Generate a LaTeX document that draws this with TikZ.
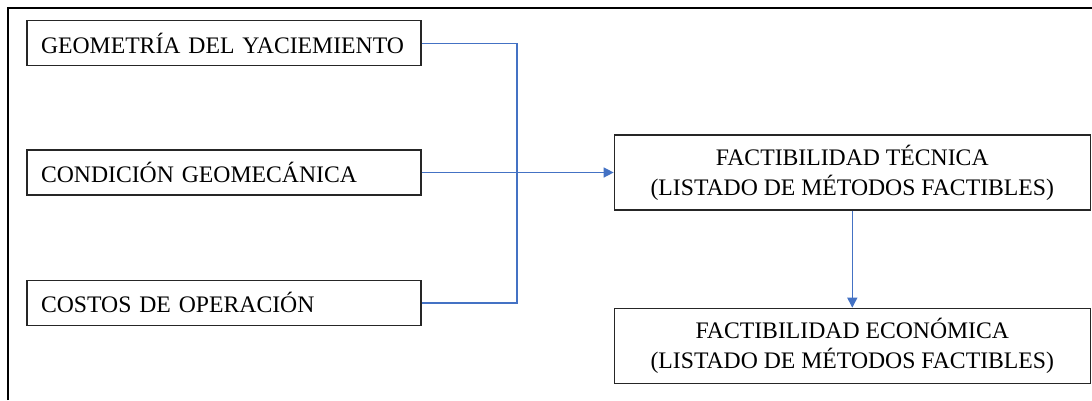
\documentclass[tikz,border=0pt]{standalone}
\usepackage{fontspec}
\setmainfont{Liberation Serif}
\usepackage{tikz}
\usetikzlibrary{positioning,arrows.meta}

\definecolor{linkblue}{RGB}{68,114,196}

\begin{document}
\begin{tikzpicture}[
		x=1pt, y=-1pt,
		>={Triangle[length=10pt,width=10pt]},
		node distance=84pt,
		every node/.style={font=\fontsize{23.7}{30}\selectfont},
		inbox/.style={draw=black!85, line width=1.3pt, text width=366pt, inner xsep=14pt,
			minimum height=45pt, align=left},
		outbox/.style={draw=black!85, line width=1.3pt, minimum width=476pt,
			minimum height=75pt, align=center},
		link/.style={draw=linkblue, line width=1.4pt}
	]
	\useasboundingbox (0,0) rectangle (1092,400);
	% frame
	\draw[line width=1.8pt] (8,400) -- (8,8) -- (1092,8);
	
	\node(cond)[inbox] at (224,172.5) {CONDICIÓN GEOMECÁNICA};
	\node(geo)[inbox, above=83pt of cond] {GEOMETRÍA DEL YACIEMIENTO};
	\node(cost)[inbox, below=of cond] {COSTOS DE OPERACIÓN};
	
	\node(tec)[outbox, right=192pt of cond] {FACTIBILIDAD TÉCNICA\\(LISTADO DE MÉTODOS FACTIBLES)};
	\node(eco)[outbox, below=97pt of tec] {FACTIBILIDAD ECONÓMICA\\(LISTADO DE MÉTODOS FACTIBLES)};
	
	\coordinate(bus) at (517,172.5);
	
	\draw[link] (geo.east) -| (bus) |- (cost.east);
	\draw[link, ->] (cond.east) -- (tec.west);
	\draw[link, ->] (tec) -- (eco);
\end{tikzpicture}
\end{document}
